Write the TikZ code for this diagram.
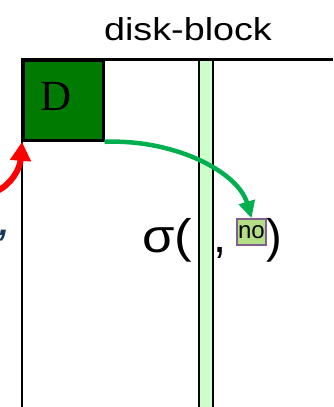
\documentclass[tikz,border=0pt]{standalone}
\usepackage{fontspec}
\setmainfont{Liberation Sans}
\newfontfamily\seriffont{Liberation Serif}
\usetikzlibrary{arrows.meta}
\definecolor{dgreen}{RGB}{0,122,0}
\definecolor{lgreen}{RGB}{204,255,204}
\definecolor{agreen}{RGB}{0,176,80}
\definecolor{nofill}{RGB}{180,222,134}
\definecolor{noborder}{RGB}{128,96,140}
\definecolor{navy}{RGB}{23,55,94}
\begin{document}
\begin{tikzpicture}[x=1pt,y=-1pt,
  frame/.style={line width=2.5pt},
  bigtext/.style={font=\fontsize{47}{50}\selectfont, inner sep=0, anchor=base},
  arrowline/.style={line width=#1}]
\useasboundingbox (0,0) rectangle (333,407);
% light green strip
\fill[lgreen] (199,59.3) rectangle (213,407);
\draw[frame] (199,59.3) -- (199,407) (213,59.3) -- (213,407);
% frame
\draw[frame] (22,407) -- (22,59.3) -- (333,59.3);
% D box
\node[draw, frame, fill=dgreen, minimum width=80pt, minimum height=80pt, inner sep=0, anchor=north west] (D) at (22,59.3) {};
\node[font=\seriffont\fontsize{43}{46}\selectfont, inner sep=0, anchor=base] (Dtext) at (56,110) {D};
% title
\node[font=\fontsize{31.7}{36}\selectfont, inner sep=0, anchor=base, xscale=1.19] (title) at (188,40) {disk-block};
% sigma expression
\node[bigtext, anchor=base west, xscale=1.12] (sigma) at (142,252) {σ(};
\node[bigtext] (comma) at (220,252) {,};
\node[draw=noborder, fill=nofill, line width=1.6pt, minimum width=29pt, minimum height=26pt, inner sep=0, font=\fontsize{24}{26}\selectfont] (nobox) at (251.5,232) {no};
\node[bigtext, anchor=base west] (rparen) at (266,252) {)};
% blue mark at left
\node[bigtext, text=navy, font=\fontsize{36}{38}\selectfont\bfseries\itshape] (mark) at (5,235) {,};
% arrows
\coordinate (redstart) at (-3,191);
\draw[red, arrowline=6pt, -{Triangle[length=19pt,width=20pt]}] (redstart) .. controls (12,184) and (20,168) .. (D.south west);
\draw[agreen, arrowline=4.5pt, -{Triangle[length=17pt,width=16pt]}] (D.south east) .. controls (175,139) and (238,172) .. (nobox.north);
\end{tikzpicture}
\end{document}
